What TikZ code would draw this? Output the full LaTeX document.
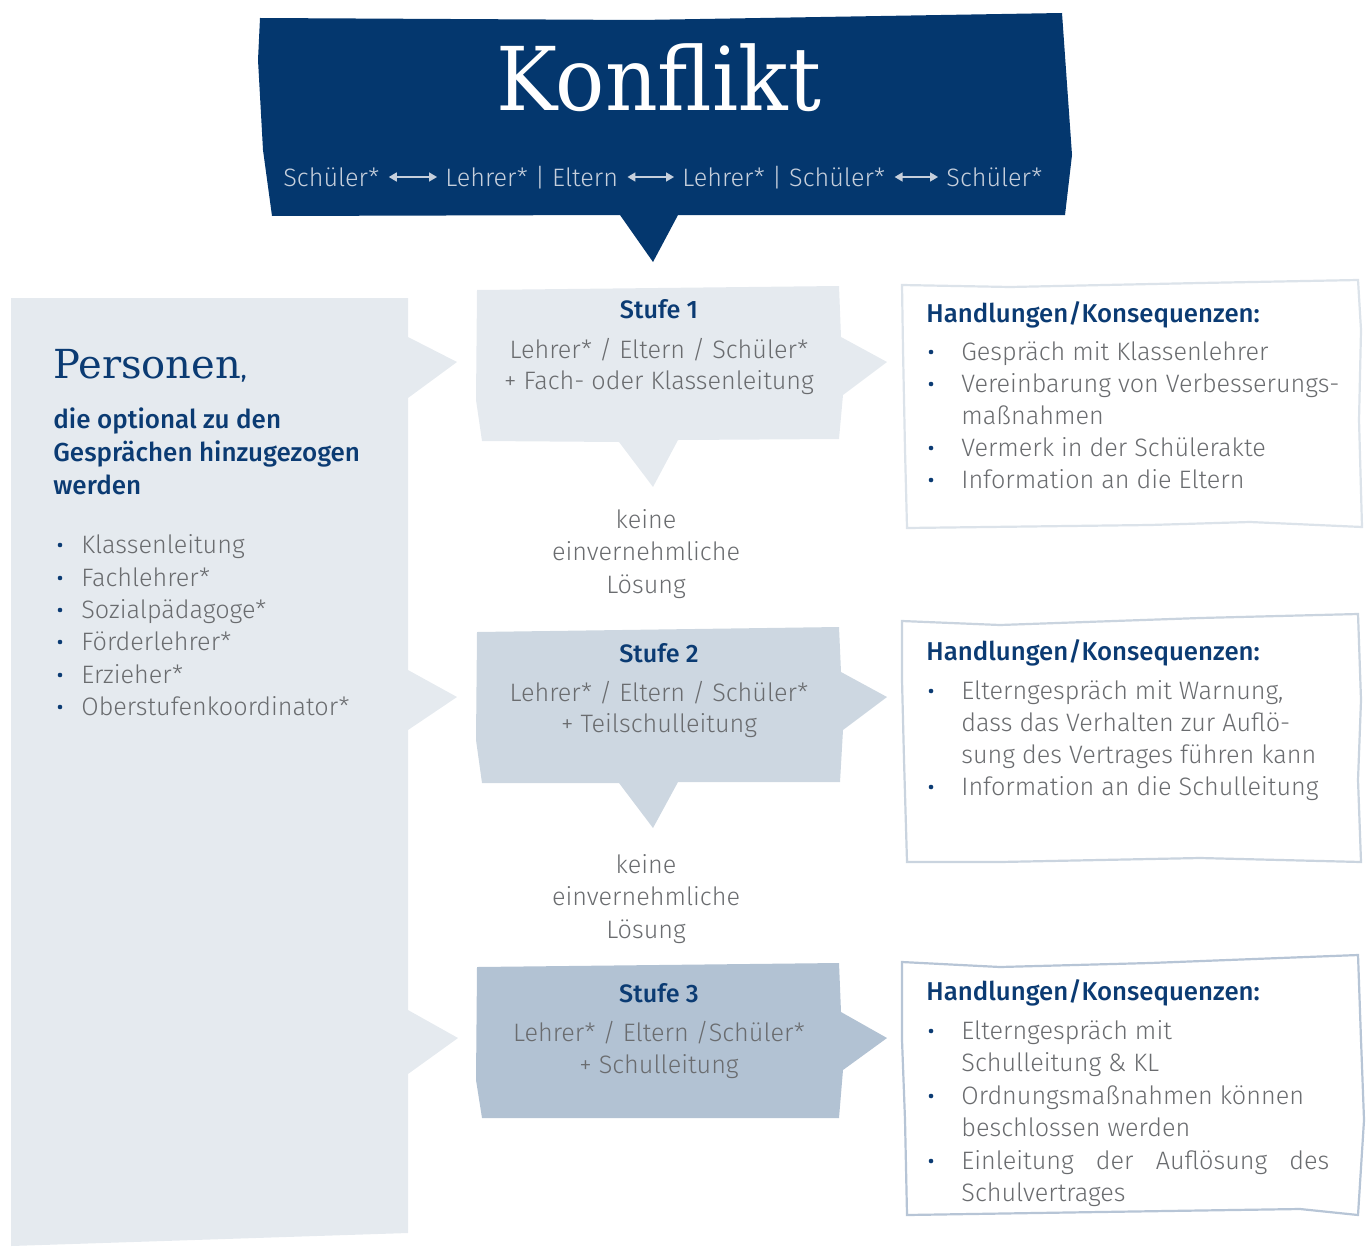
\documentclass[tikz,border=0pt]{standalone}
\usepackage{fontspec}
\setmainfont{Fira Sans Light}[BoldFont={Fira Sans Medium}]
\newfontfamily\slab{DejaVu Serif}
\usetikzlibrary{arrows.meta}
\definecolor{navy}{HTML}{04376E}
\definecolor{headblue}{HTML}{0B3B73}
\definecolor{greytxt}{HTML}{6A6C6F}
\definecolor{subtxt}{HTML}{C6CFDC}
\definecolor{panel}{HTML}{E5EAEF}
\definecolor{stwo}{HTML}{CDD7E1}
\definecolor{sthree}{HTML}{B2C2D3}
\definecolor{bone}{HTML}{DCE3EA}
\definecolor{btwo}{HTML}{CAD4DF}
\definecolor{bthree}{HTML}{B7C5D6}
\begin{document}
\begin{tikzpicture}[x=0.5pt,y=-0.5pt,
  bodyfont/.style={font=\fontsize{12.6}{15}\selectfont},
  txt/.style={bodyfont, anchor=base west, inner sep=0pt, text=greytxt},
  ctxt/.style={bodyfont, anchor=base, inner sep=0pt, text=greytxt},
  hd/.style={font=\bfseries\fontsize{12.9}{15}\selectfont, anchor=base west, inner sep=0pt, text=headblue},
  chd/.style={font=\bfseries\fontsize{12.6}{15}\selectfont, anchor=base, inner sep=0pt, text=headblue},
  dot/.style={circle, fill=headblue, inner sep=0pt, minimum size=2.3pt},
  subl/.style={font=\fontsize{12.6}{15}\selectfont, anchor=base west, inner sep=0pt, text=subtxt},
  subarrow/.style={draw=subtxt, line width=0.8pt, {Triangle[length=4pt,width=4.5pt]}-{Triangle[length=4pt,width=4.5pt]}},
  hbox/.style={line width=1.1pt, fill=white}
]
\useasboundingbox (0,0) rectangle (1368,1246);

% ---------- Konflikt banner ----------
\fill[navy] (260,18) -- (640,20) -- (1062,13) -- (1066,70) -- (1072,155) -- (1065,215)
  -- (678,215) -- (653,262) -- (620,215) -- (272,216) -- (263,150) -- (258,60) -- cycle;
\node[anchor=base, inner sep=0pt, text=white, font=\slab\fontsize{44}{48}\selectfont]
  (konflikt) at (659,111) {\scalebox{0.93}[1]{Konflikt}};
\node[subl] (sa) at (283,187) {Schüler*};
\node[subl] (sb) at (445,187) {Lehrer* | Eltern};
\node[subl] (sc) at (682,187) {Lehrer* | Schüler*};
\node[subl] (sd) at (946,187) {Schüler*};
\draw[subarrow] ([xshift=4.5pt,yshift=5pt]sa.base east) -- ([xshift=-4pt,yshift=5pt]sb.base west);
\draw[subarrow] ([xshift=4.5pt,yshift=5pt]sb.base east) -- ([xshift=-4pt,yshift=5pt]sc.base west);
\draw[subarrow] ([xshift=4.5pt,yshift=5pt]sc.base east) -- ([xshift=-4pt,yshift=5pt]sd.base west);

% ---------- left panel ----------
\fill[panel] (11,298) -- (408,298) -- (408,337) -- (457,362) -- (408,398) -- (408,670)
  -- (457,697) -- (408,730) -- (408,1010) -- (458,1038) -- (408,1074) -- (408,1233)
  -- (11,1246) -- cycle;
\node[anchor=base west, inner sep=0pt, text=headblue, font=\slab\fontsize{20}{24}\selectfont]
  (personen) at (53,378) {Personen\fontsize{11}{14}\selectfont\rmfamily\bfseries,};
\node[hd, font=\bfseries\fontsize{13}{15}\selectfont] (pa) at (53,428) {die optional zu den};
\node[hd, font=\bfseries\fontsize{13}{15}\selectfont] (pb) at (53,461) {Gesprächen hinzugezogen};
\node[hd, font=\bfseries\fontsize{13}{15}\selectfont] (pc) at (53,494) {werden};
\node[dot] (ld1) at (60,545) {}; \node[txt] (lt1) at (81,553) {Klassenleitung};
\node[dot] (ld2) at (60,578) {}; \node[txt] (lt2) at (81,586) {Fachlehrer*};
\node[dot] (ld3) at (60,610) {}; \node[txt] (lt3) at (81,618) {Sozialpädagoge*};
\node[dot] (ld4) at (60,642) {}; \node[txt] (lt4) at (81,650) {Förderlehrer*};
\node[dot] (ld5) at (60,675) {}; \node[txt] (lt5) at (81,683) {Erzieher*};
\node[dot] (ld6) at (60,707) {}; \node[txt] (lt6) at (81,715) {Oberstufenkoordinator*};

% ---------- Stufe boxes ----------
\fill[panel] (477,290) -- (839,286) -- (841,337) -- (887,362) -- (843,395) -- (839,439)
  -- (678,440) -- (653,487) -- (619,442) -- (482,441) -- (476,400) -- cycle;
\node[chd] (st1) at (659,318) {Stufe 1};
\node[ctxt] (st1a) at (659,358) {Lehrer* / Eltern / Schüler*};
\node[ctxt] (st1b) at (659,389) {+ Fach- oder Klassenleitung};

\fill[stwo] (477,632) -- (839,627) -- (841,672) -- (887,697) -- (843,730) -- (840,782)
  -- (678,782) -- (653,828) -- (619,783) -- (482,783) -- (476,740) -- cycle;
\node[chd] (st2) at (659,662) {Stufe 2};
\node[ctxt] (st2a) at (659,701) {Lehrer* / Eltern / Schüler*};
\node[ctxt] (st2b) at (659,732) {+ Teilschulleitung};

\fill[sthree] (477,967) -- (839,963) -- (841,1012) -- (887,1038) -- (843,1070) -- (839,1118)
  -- (482,1118) -- (476,1080) -- cycle;
\node[chd] (st3) at (659,1002) {Stufe 3};
\node[ctxt] (st3a) at (659,1041) {Lehrer* / Eltern /Schüler*};
\node[ctxt] (st3b) at (659,1073) {+ Schulleitung};

% keine einvernehmliche Loesung
\node[ctxt] (k1a) at (646,528) {keine};
\node[ctxt] (k1b) at (646,560) {einvernehmliche};
\node[ctxt] (k1c) at (646,593) {Lösung};
\node[ctxt] (k2a) at (646,873) {keine};
\node[ctxt] (k2b) at (646,905) {einvernehmliche};
\node[ctxt] (k2c) at (646,938) {Lösung};

% ---------- Handlungen boxes ----------
\draw[hbox, draw=bone] (902,285) -- (1010,287) -- (1200,283) -- (1358,280) -- (1361,330)
  -- (1359,420) -- (1362,527) -- (1250,522) -- (1150,525) -- (907,528) -- (905,450) -- (903,350) -- cycle;
\node[hd] (h1) at (926,322) {Handlungen/Konsequenzen:};
\node[dot] (h1d1) at (931,352) {}; \node[txt] (h1t1) at (961,360) {Gespräch mit Klassenlehrer};
\node[dot] (h1d2) at (931,384) {}; \node[txt] (h1t2) at (961,392) {Vereinbarung von Verbesserungs-};
\node[txt] (h1t3) at (961,424) {maßnahmen};
\node[dot] (h1d3) at (931,448) {}; \node[txt] (h1t4) at (961,456) {Vermerk in der Schülerakte};
\node[dot] (h1d4) at (931,480) {}; \node[txt] (h1t5) at (961,488) {Information an die Eltern};

\draw[hbox, draw=btwo] (902,621) -- (1000,625) -- (1200,618) -- (1358,614) -- (1361,700)
  -- (1358,780) -- (1361,862) -- (1200,858) -- (1000,862) -- (907,862) -- (904,760) -- (902,680) -- cycle;
\node[hd] (h2) at (926,660) {Handlungen/Konsequenzen:};
\node[dot] (h2d1) at (931,691) {}; \node[txt] (h2t1) at (961,699) {Elterngespräch mit Warnung,};
\node[txt] (h2t2) at (961,731) {dass das Verhalten zur Auflö-};
\node[txt] (h2t3) at (961,763) {sung des Vertrages führen kann};
\node[dot] (h2d2) at (931,787) {}; \node[txt] (h2t4) at (961,795) {Information an die Schulleitung};

\draw[hbox, draw=bthree] (902,962) -- (1000,967) -- (1150,963) -- (1358,955) -- (1361,1040)
  -- (1364,1120) -- (1358,1215) -- (1300,1209) -- (1100,1212) -- (907,1215) -- (905,1120) -- (902,1040) -- cycle;
\node[hd] (h3) at (926,1000) {Handlungen/Konsequenzen:};
\node[dot] (h3d1) at (931,1031) {}; \node[txt] (h3t1) at (961,1039) {Elterngespräch mit};
\node[txt] (h3t2) at (961,1071) {Schulleitung \& KL};
\node[dot] (h3d2) at (931,1096) {}; \node[txt] (h3t3) at (961,1104) {Ordnungsmaßnahmen können};
\node[txt] (h3t4) at (961,1136) {beschlossen werden};
\node[dot] (h3d3) at (931,1161) {}; \node[txt] (h3t5) at (961,1169) {\makebox[184pt][s]{Einleitung der Auflösung des}};
\node[txt] (h3t6) at (961,1201) {Schulvertrages};
\end{tikzpicture}
\end{document}
